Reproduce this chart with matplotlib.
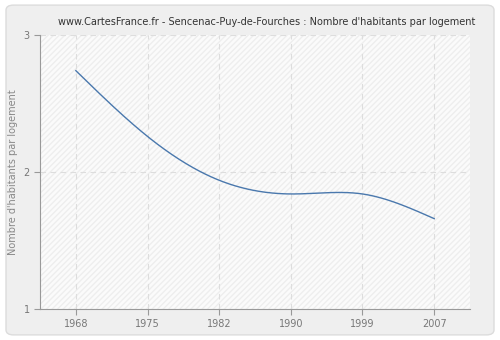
import numpy as np
import matplotlib
matplotlib.use("Agg")
import matplotlib.pyplot as plt
from matplotlib.patches import FancyBboxPatch

years = ["1968", "1975", "1982", "1990", "1999", "2007"]
values = [2.74, 2.26, 1.94, 1.84, 1.84, 1.66]
yticks = [1, 2, 3]

def natural_spline(x, y, n=300):
    x = np.asarray(x, float); y = np.asarray(y, float)
    k = len(x); h = np.diff(x)
    A = np.zeros((k, k)); b = np.zeros(k)
    A[0, 0] = A[-1, -1] = 1
    for i in range(1, k - 1):
        A[i, i - 1] = h[i - 1]; A[i, i] = 2 * (h[i - 1] + h[i]); A[i, i + 1] = h[i]
        b[i] = 3 * ((y[i + 1] - y[i]) / h[i] - (y[i] - y[i - 1]) / h[i - 1])
    c = np.linalg.solve(A, b)
    xs = np.linspace(x[0], x[-1], n); ys = np.empty_like(xs)
    for j, xv in enumerate(xs):
        i = min(np.searchsorted(x, xv, side="right") - 1, k - 2)
        d = xv - x[i]
        bb = (y[i + 1] - y[i]) / h[i] - h[i] * (2 * c[i] + c[i + 1]) / 3
        dd = (c[i + 1] - c[i]) / (3 * h[i])
        ys[j] = y[i] + bb * d + c[i] * d ** 2 + dd * d ** 3
    return xs, ys

fig = plt.figure(figsize=(5, 3.4), dpi=100)
fig.patch.set_facecolor("white")
bg = FancyBboxPatch((0.012, 0.015), 0.976, 0.97, boxstyle="round,pad=0,rounding_size=0.015",
                    transform=fig.transFigure, facecolor="#efefef", edgecolor="#dcdcdc", lw=1, zorder=-10)
fig.patches.append(bg)

ax = fig.add_axes([0.08, 0.091, 0.86, 0.806])
ax.set_facecolor("#fbfbfb")
ax.add_patch(plt.Rectangle((0, 0), 1, 1, transform=ax.transAxes, facecolor="none",
                           edgecolor="#eeeeee", hatch="//////", lw=0, zorder=0))

pos = np.arange(len(years))
xs, ys = natural_spline(pos, values)
ax.plot(xs, ys, color="#4a78ad", lw=1.0, zorder=3)

ax.set_xlim(-0.5, 5.5)
ax.set_ylim(1, 3)
ax.set_xticks(pos)
ax.set_xticklabels(years)
ax.set_yticks(yticks)
ax.grid(True, color="#dddddd", linestyle=(0, (5, 4)), lw=0.8, zorder=1)
ax.set_axisbelow(True)
for s in ["top", "right"]:
    ax.spines[s].set_visible(False)
for s in ["left", "bottom"]:
    ax.spines[s].set_color("#999999")
ax.tick_params(colors="#999999", labelcolor="#777777", labelsize=7, length=4, width=0.8)
ax.set_ylabel("Nombre d'habitants par logement", color="#888888", fontsize=7)
fig.text(0.534, 0.935, "www.CartesFrance.fr - Sencenac-Puy-de-Fourches : Nombre d'habitants par logement",
         ha="center", va="center", fontsize=7.0, color="#333333")
fig.savefig("out.png", dpi=100)
